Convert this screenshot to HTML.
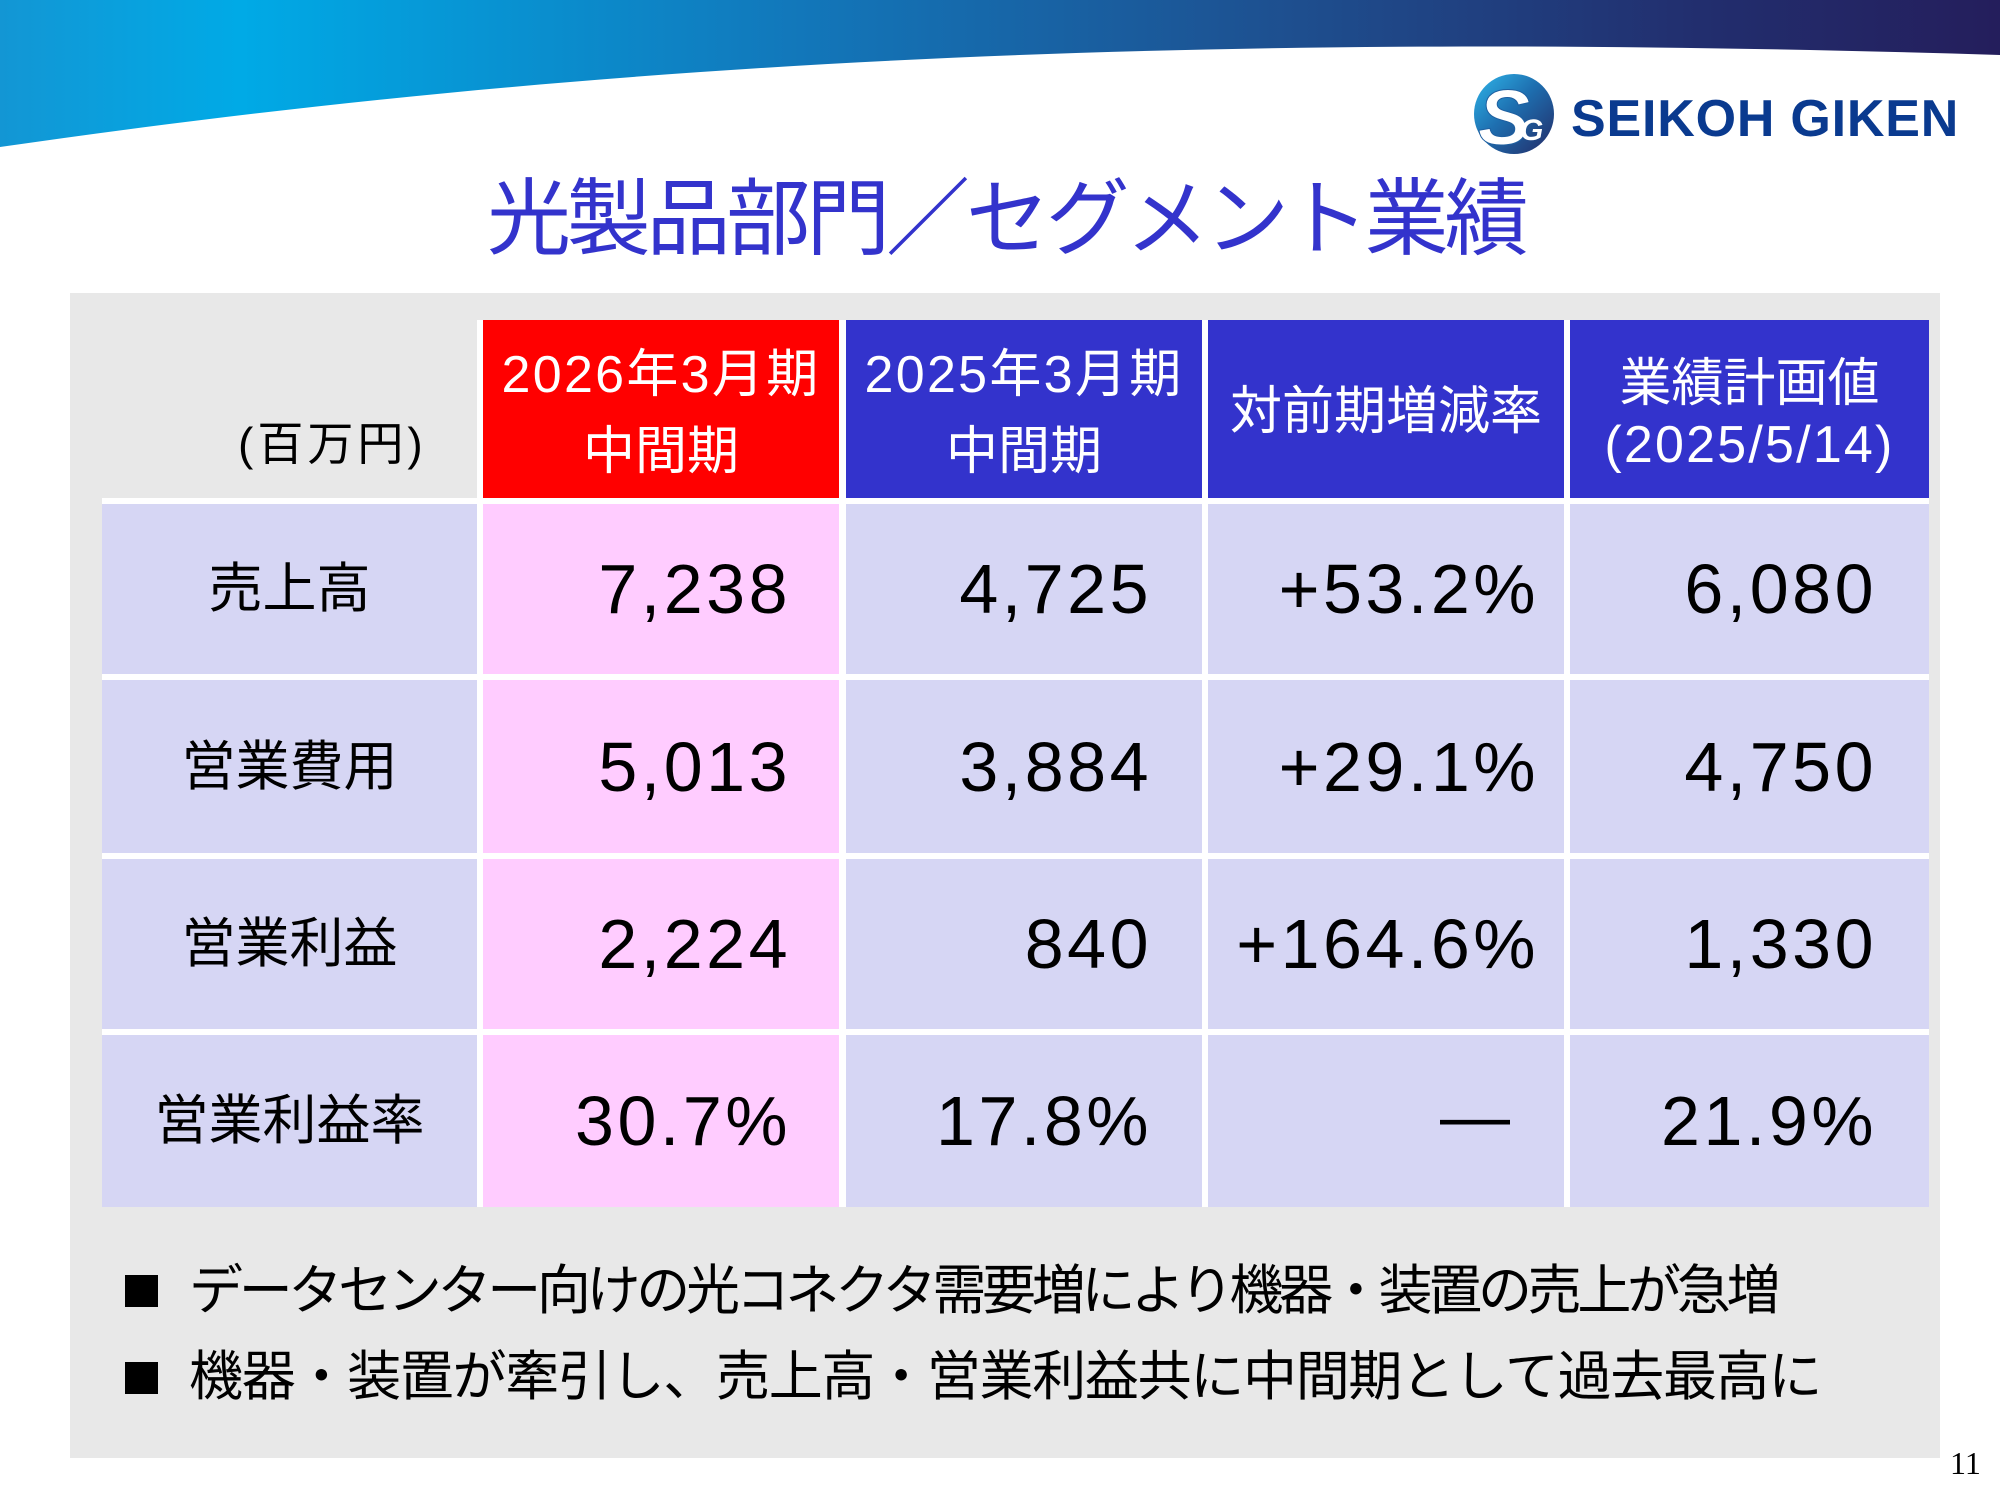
<!DOCTYPE html>
<html><head><meta charset="utf-8">
<style>
html,body{margin:0;padding:0;}
body{width:2000px;height:1500px;position:relative;overflow:hidden;background:#fff;font-family:"Liberation Sans","Noto Sans CJK JP",sans-serif;}
.a{position:absolute;}
.t{position:absolute;white-space:nowrap;}
.cell{position:absolute;}
.hdr{color:#fff;}
.hl{position:absolute;left:0;right:0;text-align:center;white-space:nowrap;font-size:52px;line-height:52px;}
.lab{position:absolute;left:102px;width:375px;background:#D6D6F4;display:flex;align-items:center;justify-content:center;font-size:54px;line-height:54px;color:#000;white-space:nowrap;}
.num{position:absolute;display:flex;align-items:center;justify-content:flex-end;font-size:70px;line-height:70px;letter-spacing:3.5px;color:#000;white-space:nowrap;box-sizing:border-box;}
.pk{background:#FFCCFF;}
.lv{background:#D6D6F4;}
.c1{left:483px;width:356px;padding-right:48px;}
.c2{left:846px;width:356px;padding-right:50px;}
.c3{left:1208px;width:356px;padding-right:25px;}
.c4{left:1570px;width:359px;padding-right:52px;}
.r1{top:504px;height:170px;}
.r2{top:680px;height:173px;}
.r3{top:859px;height:170px;}
.r4{top:1035px;height:172px;}
.sq{position:absolute;left:125px;width:33px;height:32px;background:#000;}
</style></head><body>

<svg class="a" style="left:0;top:0" width="2000" height="160">
<defs>
<linearGradient id="bg" x1="0" x2="1" y1="0" y2="0">
<stop offset="0" stop-color="#1396D4"/>
<stop offset="0.12" stop-color="#00AAE6"/>
<stop offset="0.4" stop-color="#1277BA"/>
<stop offset="0.65" stop-color="#1E4E8E"/>
<stop offset="0.85" stop-color="#222E6E"/>
<stop offset="1" stop-color="#241E5C"/>
</linearGradient>
</defs>
<path d="M0,0 H2000 V55 C1200,30 600,60 0,147 Z" fill="url(#bg)"/>
</svg>

<svg class="a" style="left:1470px;top:70px" width="92" height="92">
<defs>
<linearGradient id="lg" x1="0" y1="0" x2="1" y2="1">
<stop offset="0" stop-color="#2FB6EA"/>
<stop offset="0.45" stop-color="#1E6FB0"/>
<stop offset="1" stop-color="#232A66"/>
</linearGradient>
</defs>
<circle cx="44" cy="44" r="40" fill="url(#lg)"/>
<text x="8" y="74" font-family="Liberation Sans" font-weight="bold" font-style="italic" font-size="78" fill="#fff" stroke="#1E5FA0" stroke-width="1">S</text>
<text x="50" y="70" font-family="Liberation Sans" font-weight="bold" font-style="italic" font-size="30" fill="#fff">G</text>
</svg>
<div class="t" style="left:1571px;top:93px;font-size:52px;line-height:52px;font-weight:bold;color:#0A3A8F;letter-spacing:0.8px;">SEIKOH GIKEN</div>

<div class="t" style="left:487px;top:177px;font-size:84px;line-height:84px;letter-spacing:-4.2px;color:#3333CC;">光製品部門／セグメント業績</div>

<div class="a" style="left:70px;top:293px;width:1870px;height:1165px;background:#E8E8E8;"></div>
<div class="a" style="left:102px;top:320px;width:1827px;height:887px;background:#fff;"></div>
<div class="a" style="left:102px;top:320px;width:375px;height:178px;background:#E8E8E8;"></div>

<div class="t" style="left:238px;top:421px;font-size:46px;line-height:46px;letter-spacing:4px;color:#000;">(百万円)</div>

<div class="cell hdr" style="left:483px;top:320px;width:356px;height:178px;background:#FF0000;">
<div class="hl" style="top:29px;letter-spacing:2.3px;">2026年3月期</div>
<div class="hl" style="top:106px;">中間期</div>
</div>
<div class="cell hdr" style="left:846px;top:320px;width:356px;height:178px;background:#3333CC;">
<div class="hl" style="top:29px;letter-spacing:2.3px;">2025年3月期</div>
<div class="hl" style="top:106px;">中間期</div>
</div>
<div class="cell hdr" style="left:1208px;top:320px;width:356px;height:178px;background:#3333CC;">
<div class="hl" style="top:66px;">対前期増減率</div>
</div>
<div class="cell hdr" style="left:1570px;top:320px;width:359px;height:178px;background:#3333CC;">
<div class="hl" style="top:38px;">業績計画値</div>
<div class="hl" style="top:99px;letter-spacing:2.2px;">(2025/5/14)</div>
</div>

<div class="lab r1">売上高</div>
<div class="lab r2">営業費用</div>
<div class="lab r3">営業利益</div>
<div class="lab r4">営業利益率</div>

<div class="num pk c1 r1">7,238</div>
<div class="num lv c2 r1">4,725</div>
<div class="num lv c3 r1">+53.2%</div>
<div class="num lv c4 r1">6,080</div>

<div class="num pk c1 r2">5,013</div>
<div class="num lv c2 r2">3,884</div>
<div class="num lv c3 r2">+29.1%</div>
<div class="num lv c4 r2">4,750</div>

<div class="num pk c1 r3">2,224</div>
<div class="num lv c2 r3">840</div>
<div class="num lv c3 r3">+164.6%</div>
<div class="num lv c4 r3">1,330</div>

<div class="num pk c1 r4">30.7%</div>
<div class="num lv c2 r4">17.8%</div>
<div class="num lv c3 r4" style="padding-right:54px;"><span style="position:relative;top:-5px;letter-spacing:0;">—</span></div>
<div class="num lv c4 r4">21.9%</div>

<div class="sq" style="top:1275px;"></div>
<div class="t" style="left:189px;top:1264px;font-size:54px;line-height:54px;letter-spacing:-4.3px;color:#000;">データセンター向けの光コネクタ需要増により機器・装置の売上が急増</div>
<div class="sq" style="top:1362px;"></div>
<div class="t" style="left:189px;top:1350px;font-size:54px;line-height:54px;letter-spacing:-1.3px;color:#000;">機器・装置が牽引し、売上高・営業利益共に中間期として過去最高に</div>

<div class="t" style="left:1950px;top:1447px;font-family:'Liberation Serif',serif;font-size:32px;line-height:32px;color:#000;">11</div>

</body></html>
